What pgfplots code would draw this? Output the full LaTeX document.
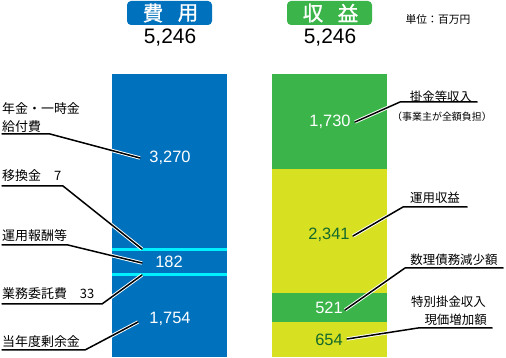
\documentclass[border=0pt]{standalone}
\usepackage{pgfplots}
\pgfplotsset{compat=1.18}
\usepackage{fontspec}
\setmainfont{Noto Sans CJK JP}
\newfontfamily\titlefont[FakeBold=1.2]{Noto Sans CJK JP}
\newfontfamily\numfont{Liberation Sans}
\definecolor{cblue}{RGB}{0,113,188}
\definecolor{ccyan}{RGB}{0,240,255}
\definecolor{cgreen}{RGB}{59,180,74}
\definecolor{cyellow}{RGB}{215,224,33}
\definecolor{cdkgreen}{RGB}{20,105,45}
\tikzset{leader/.style={black, line width=1.5bp, line cap=round, line join=round,
  preaction={draw=white, line width=3.4bp}}}
\begin{document}
\begin{tikzpicture}
\begin{axis}[
  width=506bp, height=358bp, scale only axis,
  xmin=0, xmax=506, ymin=-1, ymax=357,
  axis lines=none, ticks=none, clip=false,
  ybar stacked, bar width=115,
  every axis plot/.append style={draw=none},
  after end axis/.code={
    % title boxes
    \fill[cblue, rounded corners=4bp] (axis cs:127,332) rectangle (axis cs:212,356);
    \fill[cgreen, rounded corners=4bp] (axis cs:287,332) rectangle (axis cs:372,356);
    \node[text=white, inner sep=0, font=\titlefont\fontsize{20.5}{20.5}\selectfont] at (axis cs:153,344) {費};
    \node[text=white, inner sep=0, font=\titlefont\fontsize{20.5}{20.5}\selectfont] at (axis cs:188,344) {用};
    \node[text=white, inner sep=0, font=\titlefont\fontsize{20.5}{20.5}\selectfont] at (axis cs:313,344) {収};
    \node[text=white, inner sep=0, font=\titlefont\fontsize{20.5}{20.5}\selectfont] at (axis cs:348,344) {益};
    \node[inner sep=0, font=\numfont\fontsize{21}{21}\selectfont] at (axis cs:170,319) {5,246};
    \node[inner sep=0, font=\numfont\fontsize{21}{21}\selectfont] at (axis cs:330,319) {5,246};
    \node[inner sep=0, font=\fontsize{10.8}{10.8}\selectfont] at (axis cs:438,338) {単位：百万円};
    % leader lines
    \draw[leader] (axis cs:2,223) -- (axis cs:50,223) -- (axis cs:140,199);
    \draw[leader] (axis cs:2,171) -- (axis cs:63,171) -- (axis cs:142,108);
    \draw[leader] (axis cs:2,112) -- (axis cs:68,112) -- (axis cs:142,94);
    \draw[leader] (axis cs:2,53) -- (axis cs:102,53) -- (axis cs:142,82);
    \draw[leader] (axis cs:2,7) -- (axis cs:85,7) -- (axis cs:138,35);
    \draw[leader] (axis cs:477,255) -- (axis cs:400,255) -- (axis cs:355,235);
    \draw[leader] (axis cs:467,150) -- (axis cs:403,150) -- (axis cs:353,121);
    \draw[leader] (axis cs:503,89) -- (axis cs:405,89) -- (axis cs:345,47);
    \draw[leader] (axis cs:492,29) -- (axis cs:418,29) -- (axis cs:347,18);
    % value labels
    \node[text=white, inner sep=0, font=\numfont\fontsize{16.5}{16.5}\selectfont] at (axis cs:170,199) {3,270};
    \node[text=white, inner sep=0, font=\numfont\fontsize{16.5}{16.5}\selectfont] at (axis cs:169,95) {182};
    \node[text=white, inner sep=0, font=\numfont\fontsize{16.5}{16.5}\selectfont] at (axis cs:170,38) {1,754};
    \node[text=white, inner sep=0, font=\numfont\fontsize{16.5}{16.5}\selectfont] at (axis cs:330,235) {1,730};
    \node[text=cdkgreen, inner sep=0, font=\numfont\fontsize{16.5}{16.5}\selectfont] at (axis cs:329,122) {2,341};
    \node[text=white, inner sep=0, font=\numfont\fontsize{16.5}{16.5}\selectfont] at (axis cs:329,49) {521};
    \node[text=cdkgreen, inner sep=0, font=\numfont\fontsize{16.5}{16.5}\selectfont] at (axis cs:329,17) {654};
    % left category labels
    \node[inner sep=0, anchor=west, font=\fontsize{13}{13}\selectfont] at (axis cs:2,248) {年金・一時金};
    \node[inner sep=0, anchor=west, font=\fontsize{13}{13}\selectfont] at (axis cs:2,230) {給付費};
    \node[inner sep=0, anchor=west, font=\fontsize{13}{13}\selectfont] at (axis cs:2,181) {移換金　7};
    \node[inner sep=0, anchor=west, font=\fontsize{13}{13}\selectfont] at (axis cs:2,121) {運用報酬等};
    \node[inner sep=0, anchor=west, font=\fontsize{13}{13}\selectfont] at (axis cs:2,63) {業務委託費　33};
    \node[inner sep=0, anchor=west, font=\fontsize{13}{13}\selectfont] at (axis cs:2,15) {当年度剰余金};
    % right category labels
    \node[inner sep=0, font=\fontsize{12.5}{12.5}\selectfont] at (axis cs:441,260) {掛金等収入};
    \node[inner sep=0, font=\fontsize{10}{10}\selectfont] at (axis cs:442,240) {（事業主が全額負担）};
    \node[inner sep=0, font=\fontsize{12.5}{12.5}\selectfont] at (axis cs:435,159) {運用収益};
    \node[inner sep=0, font=\fontsize{12.5}{12.5}\selectfont] at (axis cs:454,97) {数理債務減少額};
    \node[inner sep=0, font=\fontsize{12.5}{12.5}\selectfont] at (axis cs:448.5,55) {特別掛金収入};
    \node[inner sep=0, anchor=east, font=\fontsize{12.5}{12.5}\selectfont] at (axis cs:487,37) {現価増加額};
  },
]
\path (rel axis cs:0,0) rectangle (rel axis cs:1,1);
% left bar (drawn heights as in picture), bottom up
\addplot[fill=cblue] coordinates {(169.5,81) (329.5,0)};   % 1,754
\addplot[fill=ccyan] coordinates {(169.5,3) (329.5,0)};    % 33
\addplot[fill=cblue] coordinates {(169.5,22) (329.5,0)};   % 182
\addplot[fill=ccyan] coordinates {(169.5,3) (329.5,0)};    % 7
\addplot[fill=cblue] coordinates {(169.5,174) (329.5,0)};  % 3,270
% right bar
\addplot[fill=cyellow] coordinates {(169.5,0) (329.5,35)}; % 654
\addplot[fill=cgreen] coordinates {(169.5,0) (329.5,29)};  % 521
\addplot[fill=cyellow] coordinates {(169.5,0) (329.5,124)};% 2,341
\addplot[fill=cgreen] coordinates {(169.5,0) (329.5,95)};  % 1,730
\end{axis}
\end{tikzpicture}
\end{document}
